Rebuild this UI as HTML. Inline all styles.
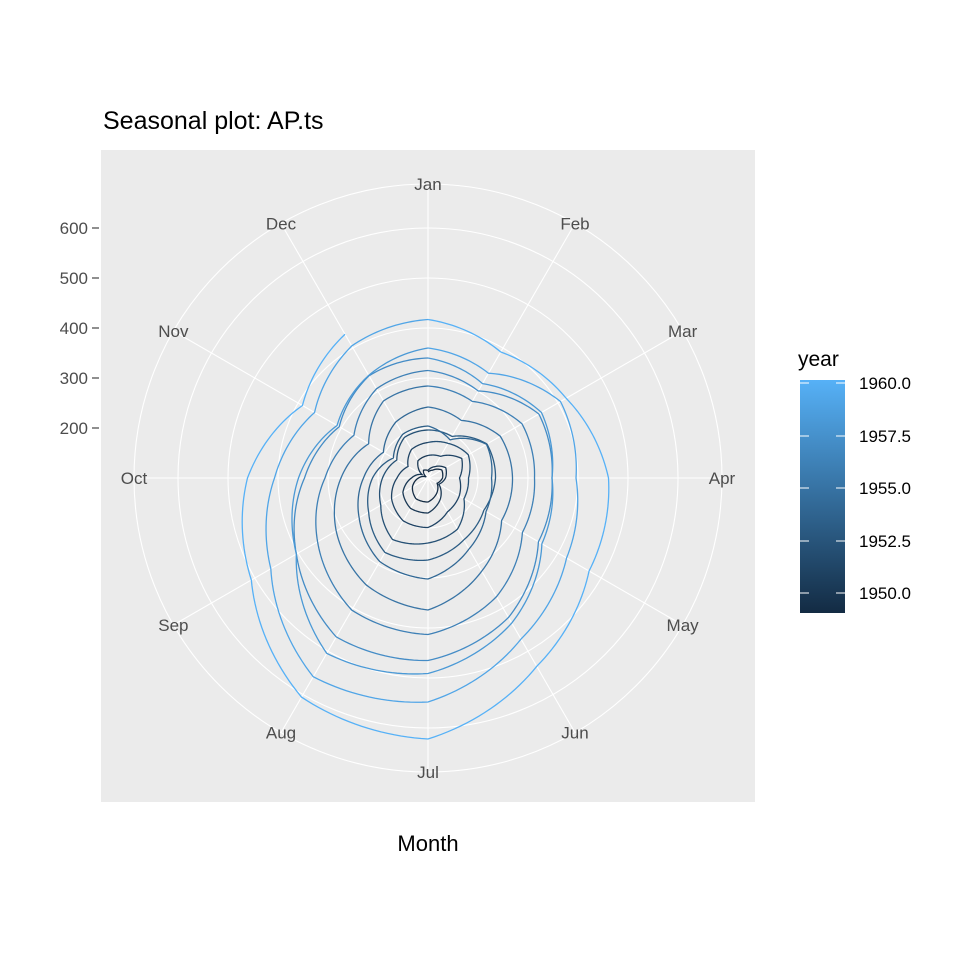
<!DOCTYPE html>
<html><head><style>
body{margin:0;background:#fff;}
svg text{font-family:"Liberation Sans",Arial,sans-serif;}
</style></head><body>
<svg id="s" width="960" height="960" xmlns="http://www.w3.org/2000/svg">
<defs><linearGradient id="g" x1="0" y1="1" x2="0" y2="0">
<stop offset="0" stop-color="#132B43"/><stop offset="1" stop-color="#56B1F7"/></linearGradient></defs>
<rect width="960" height="960" fill="#fff"/>
<text x="103" y="129" font-size="25" fill="#000">Seasonal plot: AP.ts</text>
<rect x="101" y="150" width="654" height="652" fill="#EBEBEB"/>
<g id="grid" stroke="#fff" fill="none" stroke-width="1.1"></g>
<g id="lines" fill="none" stroke-width="1.3"></g>
<g id="mlab" font-size="17" fill="#4D4D4D" text-anchor="middle"></g>
<g font-size="17" fill="#4D4D4D" text-anchor="end">
<text x="88" y="234">600</text><text x="88" y="284">500</text><text x="88" y="334">400</text><text x="88" y="384">300</text><text x="88" y="434">200</text>
</g>
<g stroke="#333" stroke-width="1.1">
<line x1="92" y1="228" x2="99" y2="228"/><line x1="92" y1="278" x2="99" y2="278"/><line x1="92" y1="328" x2="99" y2="328"/><line x1="92" y1="378" x2="99" y2="378"/><line x1="92" y1="428" x2="99" y2="428"/>
</g>
<text x="428" y="851" font-size="22" text-anchor="middle" fill="#000">Month</text>
<text x="798" y="366" font-size="21" fill="#000">year</text>
<rect x="800" y="380" width="45" height="233" fill="url(#g)"/>
<g stroke="#fff" stroke-width="1">
<line x1="800" y1="593" x2="809" y2="593"/><line x1="836" y1="593" x2="845" y2="593"/>
<line x1="800" y1="541" x2="809" y2="541"/><line x1="836" y1="541" x2="845" y2="541"/>
<line x1="800" y1="488" x2="809" y2="488"/><line x1="836" y1="488" x2="845" y2="488"/>
<line x1="800" y1="436" x2="809" y2="436"/><line x1="836" y1="436" x2="845" y2="436"/>
<line x1="800" y1="383" x2="809" y2="383"/><line x1="836" y1="383" x2="845" y2="383"/>
</g>
<g font-size="17" fill="#000">
<text x="859" y="599">1950.0</text><text x="859" y="547">1952.5</text><text x="859" y="494">1955.0</text><text x="859" y="442">1957.5</text><text x="859" y="389">1960.0</text>
</g>
</svg>
<script>
var cx=428,cy=478,NS="http://www.w3.org/2000/svg";
function el(t,a,p){var e=document.createElementNS(NS,t);for(var k in a)e.setAttribute(k,a[k]);document.getElementById(p).appendChild(e);return e;}
function R(v){return (v-100)*0.5;}
[50,100,150,200,250,294].forEach(function(r){el("circle",{cx:cx,cy:cy,r:r},"grid");});
var M=["Jan","Feb","Mar","Apr","May","Jun","Jul","Aug","Sep","Oct","Nov","Dec"];
for(var i=0;i<12;i++){var a=i*Math.PI/6;
el("line",{x1:cx,y1:cy,x2:cx+294*Math.sin(a),y2:cy-294*Math.cos(a)},"grid");
var t=el("text",{x:cx+294*Math.sin(a),y:cy-294*Math.cos(a)+6},"mlab");t.textContent=M[i];}
var D=[[112,118,132,129,121,135,148,148,136,119,104,118],
[115,126,141,135,125,149,170,170,158,133,114,140],
[145,150,178,163,172,178,199,199,184,162,146,166],
[171,180,193,181,183,218,230,242,209,191,172,194],
[196,196,236,235,229,243,264,272,237,211,180,201],
[204,188,235,227,234,264,302,293,259,229,203,229],
[242,233,267,269,270,315,364,347,312,274,237,278],
[284,277,317,313,318,374,413,405,355,306,271,306],
[315,301,356,348,355,422,465,467,404,347,305,336],
[340,318,362,348,363,435,491,505,404,359,310,337],
[360,342,406,396,420,472,548,559,463,407,362,405],
[417,391,419,461,472,535,622,606,508,461,390,432]];
var c0=[0x13,0x2B,0x43],c1=[0x56,0xB1,0xF7];
for(var y=0;y<12;y++){var v=D[y].slice();if(y<11)v.push(D[y+1][0]);
var f=y/11,col="rgb("+c0.map(function(c,k){return Math.round(c+(c1[k]-c)*f);}).join(",")+")";
var d="";for(var m=0;m<v.length-1;m++){for(var s=0;s<=20;s++){if(m>0&&s==0)continue;var u=s/20;var r=R(v[m]+(v[m+1]-v[m])*u);var a=(m+u)*Math.PI/6;
d+=(d?"L":"M")+(cx+r*Math.sin(a)).toFixed(2)+","+(cy-r*Math.cos(a)).toFixed(2);}}
el("path",{d:d,stroke:col},"lines");}
</script>
</body></html>
